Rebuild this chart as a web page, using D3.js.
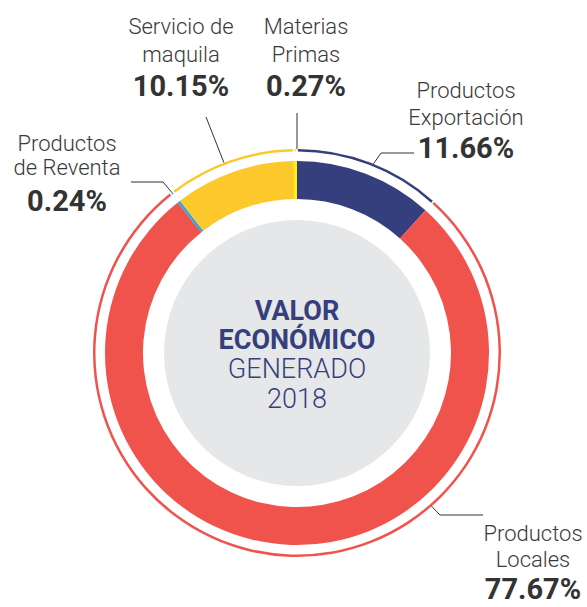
<!DOCTYPE html>
<html>
<head>
    <meta charset="utf-8" />
    <title>Valor Económico Generado 2018</title>
    <script src="https://d3js.org/d3.v7.min.js"></script>
    <style>
        body { margin: 0; background: #fff; }
        text { font-family: Roboto, "Noto Sans", sans-serif; }
        .lbl { font-weight: 300; font-size: 22px; fill: #3a3a3a; }
        .pct { font-weight: 700; font-size: 29px; fill: #333; }
        .center-txt { font-size: 27px; fill: #363f7d; }
        .leader { fill: none; stroke: #333; stroke-width: 1; }
    </style>
</head>
<body>
    <div id="chart"></div>
    <script>
        // data, clockwise from 12 o'clock
        const categories = ["Productos Exportación", "Productos Locales", "Productos de Reventa", "Servicio de maquila", "Materias Primas"];
        const values = [11.66, 77.67, 0.24, 10.15, 0.27];
        const colors = ["#363f7d", "#f0524c", "#27a9e1", "#fdc82b", "#fff200"];
        const labelLines = [["Productos", "Exportación"], ["Productos", "Locales"], ["Productos", "de Reventa"], ["Servicio de", "maquila"], ["Materias", "Primas"]];
        const centerTitle = ["VALOR", "ECONÓMICO", "GENERADO", "2018"];

        const width = 587, height = 607;
        const cx = 297, cy = 353;

        // label layout: where each label sits and where its leader goes (deg = angle on the thin ring)
        const layout = [
            { x: 466, y: [98, 125, 158], deg: 22, path: [[381, 153], [414, 153]] },
            { x: 533, y: [541, 567, 599], deg: 138.7, path: [[440, 515], [483, 515]] },
            { x: 67, y: [151, 175, 211], deg: null, path: [[163, 182], [131, 182]] },
            { x: 181, y: [34, 62, 96], deg: 339, path: [[206, 117]] },
            { x: 306, y: [34, 62, 96], deg: 360, path: [[297, 113]] }
        ];

        const svg = d3.select("#chart").append("svg")
            .attr("width", width)
            .attr("height", height);

        const pie = d3.pie().sort(null).value(d => d.value);
        const arcs = pie(values.map((v, i) => ({ name: categories[i], value: v, i: i })));

        const g = svg.append("g").attr("transform", `translate(${cx},${cy})`);

        g.append("circle").attr("r", 133).attr("fill", "#e6e7e9");

        const thick = d3.arc().innerRadius(154).outerRadius(192);
        const thin = d3.arc().innerRadius(201.5).outerRadius(204).padAngle(0.006);

        g.append("g").selectAll("path")
            .data(arcs)
            .enter().append("path")
            .attr("d", thick)
            .attr("fill", d => colors[d.data.i]);

        g.append("g").selectAll("path")
            .data(arcs)
            .enter().append("path")
            .attr("d", thin)
            .attr("fill", d => colors[d.data.i]);

        // leaders
        const rLead = 204;
        arcs.forEach(a => {
            const L = layout[a.data.i];
            const ang = L.deg == null ? (a.startAngle + a.endAngle) / 2 : L.deg * Math.PI / 180;
            const start = [cx + rLead * Math.sin(ang), cy - rLead * Math.cos(ang)];
            svg.append("path")
                .attr("class", "leader")
                .attr("d", d3.line()([start].concat(L.path)));
        });

        // labels
        arcs.forEach(a => {
            const i = a.data.i, L = layout[i];
            const t = svg.append("g");
            labelLines[i].forEach((s, k) => {
                t.append("text").attr("class", "lbl")
                    .attr("x", L.x).attr("y", L.y[k])
                    .attr("text-anchor", "middle").text(s);
            });
            t.append("text").attr("class", "pct")
                .attr("x", L.x).attr("y", L.y[2])
                .attr("text-anchor", "middle")
                .text(values[i].toFixed(2) + "%");
        });

        // center title
        const ty = [320, 349, 378, 408];
        centerTitle.forEach((s, k) => {
            g.append("text").attr("class", "center-txt")
                .attr("x", 0).attr("y", ty[k] - cy)
                .attr("text-anchor", "middle")
                .attr("font-weight", k < 2 ? 700 : 300)
                .text(s);
        });
    </script>
</body>
</html>
